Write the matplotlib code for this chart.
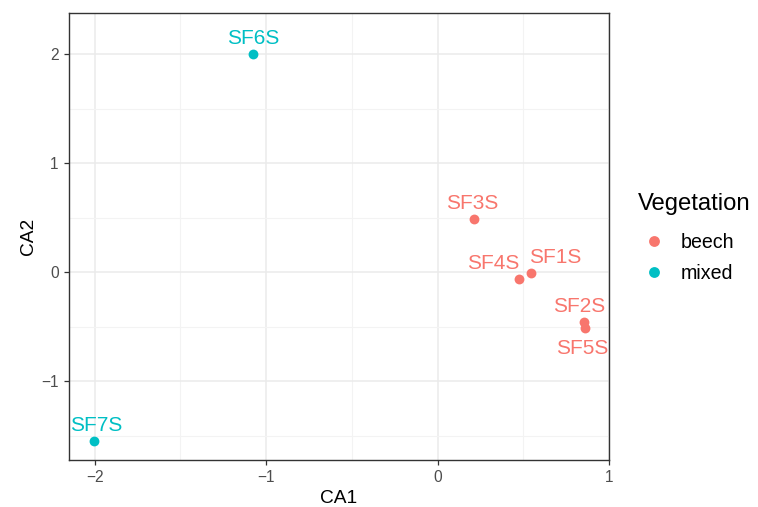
import matplotlib
matplotlib.use("Agg")
import matplotlib.pyplot as plt
from matplotlib.lines import Line2D

plt.rcParams['font.family'] = ['Liberation Sans', 'DejaVu Sans']

sites = ["SF1S", "SF2S", "SF3S", "SF4S", "SF5S", "SF6S", "SF7S"]
ca1 = [0.547, 0.856, 0.213, 0.476, 0.862, -1.076, -2.005]
ca2 = [-0.004, -0.453, 0.489, -0.061, -0.508, 2.0, -1.545]
vegetation = ["beech", "beech", "beech", "beech", "beech", "mixed", "mixed"]
groups = ["beech", "mixed"]
x_ticks = [-2, -1, 0, 1]
y_ticks = [-1, 0, 1, 2]

colors = {"beech": "#F8766D", "mixed": "#00BFC4"}
# label offsets in points (dx, dy)
label_offsets = {"SF1S": (17, 11), "SF2S": (-4, 11), "SF3S": (-1, 11),
                 "SF4S": (-19, 11), "SF5S": (-2, -15), "SF6S": (0, 11.5),
                 "SF7S": (2, 11)}

fig = plt.figure(figsize=(7.58, 5.07), dpi=100)
W, H = 758, 507
ax = fig.add_axes([69 / W, 1 - 460 / H, (609 - 69) / W, (460 - 12.7) / H])

for g in groups:
    xs = [x for x, v in zip(ca1, vegetation) if v == g]
    ys = [y for y, v in zip(ca2, vegetation) if v == g]
    ax.scatter(xs, ys, s=50, color=colors[g], zorder=3, linewidths=0)

for name, x, y, v in zip(sites, ca1, ca2, vegetation):
    dx, dy = label_offsets[name]
    ax.annotate(name, (x, y), xytext=(dx, dy), textcoords='offset points',
                ha='center', va='center', fontsize=15, color=colors[v], zorder=4)

ax.set_xlim(-2.15, 1.0)
ax.set_ylim(-1.722, 2.38)
ax.set_xticks(x_ticks)
ax.set_yticks(y_ticks)
ax.set_xticklabels(["\u22122", "\u22121", "0", "1"])
ax.set_yticklabels(["\u22121", "0", "1", "2"])
ax.set_xticks([-1.5, -0.5, 0.5], minor=True)
ax.set_yticks([-1.5, -0.5, 0.5, 1.5], minor=True)
ax.grid(which='major', color='#EBEBEB', linewidth=1.1, zorder=0)
ax.grid(which='minor', color='#F3F3F3', linewidth=0.8, zorder=0)
ax.set_axisbelow(True)
ax.tick_params(which='major', length=3.8, width=0.9, color='#333333',
               labelcolor='#4D4D4D', labelsize=11.2, pad=3.5)
ax.tick_params(which='minor', length=0)
for s in ax.spines.values():
    s.set_color('#333333')
    s.set_linewidth(1.0)

ax.set_xlabel("CA1", fontsize=13.8, color='black', labelpad=3.5)
ax.set_ylabel("CA2", fontsize=13.8, color='black', labelpad=3)

handles = [Line2D([0], [0], marker='o', linestyle='', markersize=7.8,
                  markerfacecolor=colors[g], markeredgewidth=0) for g in groups]
leg = fig.legend(handles, groups, title="Vegetation", loc='upper left',
                 bbox_to_anchor=(638 / W, 1 - 193 / H), frameon=False,
                 fontsize=14.1, title_fontsize=17.2, handletextpad=0.6,
                 labelspacing=0.58, borderaxespad=0, borderpad=0,
                 handlelength=1.6)
leg._legend_box.align = "left"
leg._legend_box.sep = 0.58 * 14.1 + 5

fig.savefig("out.png", dpi=100)
